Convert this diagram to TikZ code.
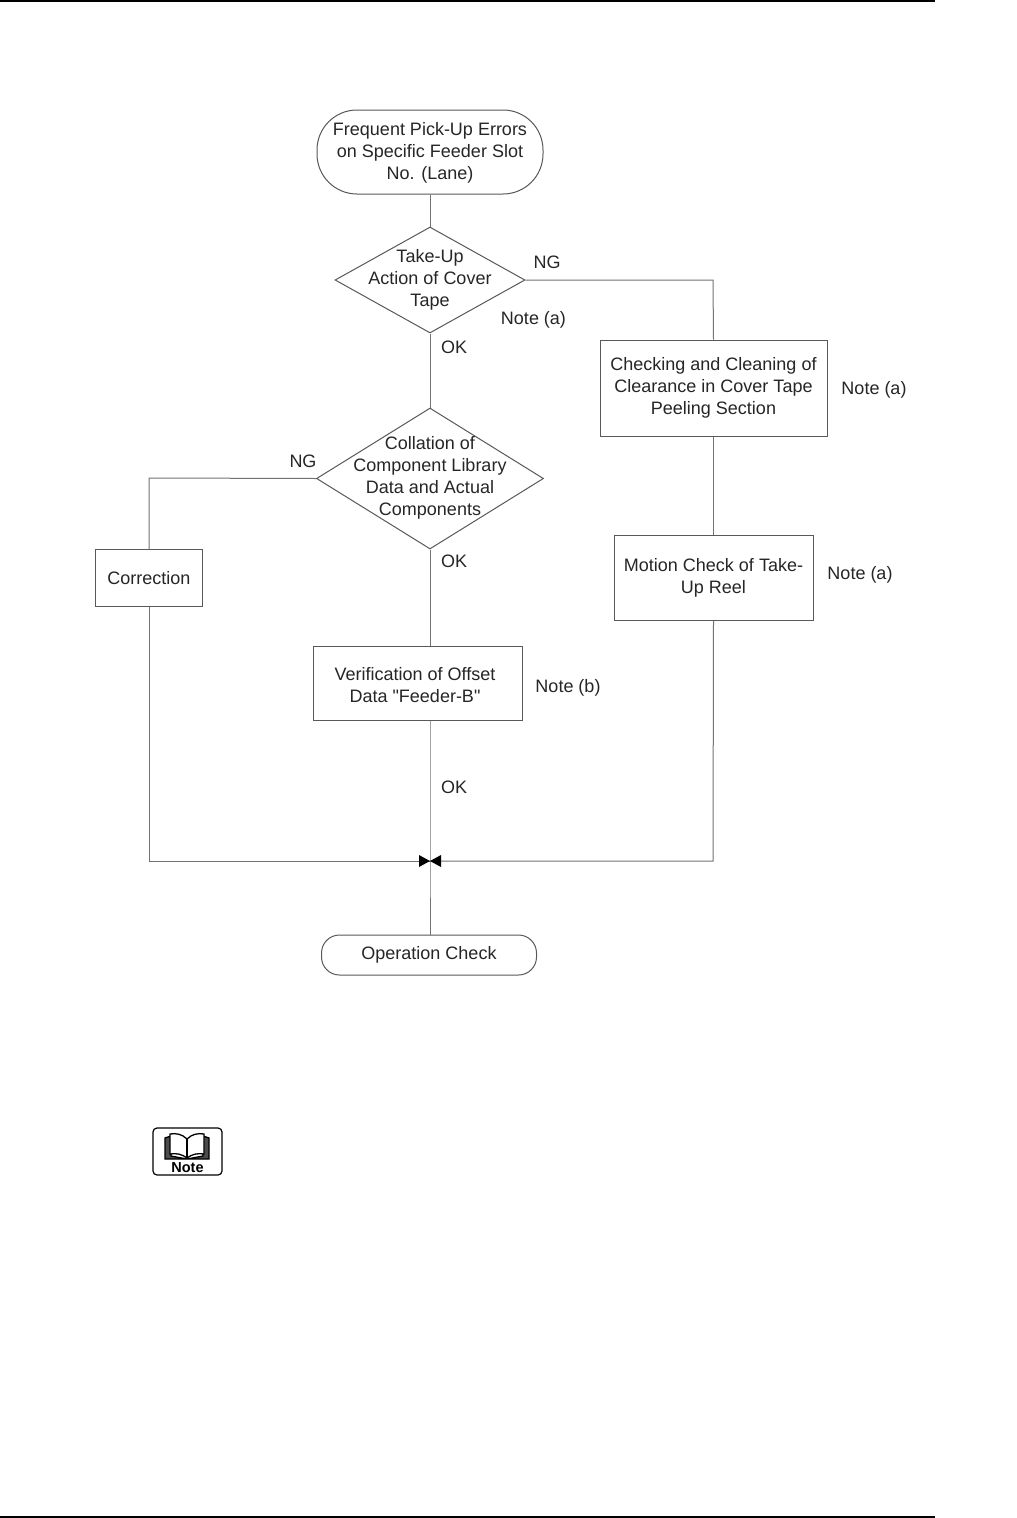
\documentclass[tikz,border=0pt]{standalone}
\usepackage{fontspec}
\setmainfont{Liberation Sans}
\newfontfamily\plainq{Liberation Sans}
\usetikzlibrary{arrows.meta,shapes.geometric}
\tikzset{
 line/.style={draw=black!55,line width=1pt},
 txt/.style={font=\fontsize{18}{22}\selectfont,align=center,inner sep=0pt,text=black!85},
 lab/.style={font=\fontsize{18}{22}\selectfont,inner sep=0pt,text=black!85},
 shp/.style={draw=black!65,line width=1pt,fill=white,inner sep=0pt},
 tip/.style={fill=black,draw=none},
 rule/.style={fill=black,draw=none}
}
\begin{document}
\begin{tikzpicture}[x=1pt,y=-1pt]
\useasboundingbox (0,0) rectangle (1017,1518);
\fill[white] (0,0) rectangle (1017,1518);
\fill[rule] (0,0) rectangle (935,2);
\fill[rule] (0,1516) rectangle (935,1518);
% coordinates
\coordinate (j) at (430,861);
\coordinate (cr) at (713,280);
\coordinate (cl) at (149,478);
\coordinate (bl) at (149,861);
\coordinate (br) at (713,861);
% nodes
\node[shp,rounded corners=40pt,minimum width=226pt,minimum height=84pt] (start) at (430,152) {};
\node[txt] (startt) at (430,153) {Frequent Pick-Up Errors\\on Specific Feeder Slot\\No. (Lane)};
\node[shp,diamond,aspect=1.8,minimum width=190pt,minimum height=106pt] (d1) at (430,280) {};
\node[txt] (d1t) at (430,280) {Take-Up\\Action of Cover\\Tape};
\node[shp,diamond,aspect=1.604,minimum width=227pt,minimum height=141pt] (d2) at (430,478.5) {};
\node[txt] (d2t) at (430,478) {Collation of\\Component Library\\Data and Actual\\Components};
\node[shp,minimum width=227pt,minimum height=96pt] (b1) at (713.5,388) {};
\node[txt] (b1t) at (713.5,388) {Checking and Cleaning of\\Clearance in Cover Tape\\Peeling Section};
\node[shp,minimum width=199pt,minimum height=85pt] (b2) at (713.5,578) {};
\node[txt] (b2t) at (713.5,578) {Motion Check of Take-\\Up Reel};
\node[shp,minimum width=107pt,minimum height=57pt] (b3) at (149,578) {};
\node[txt] (b3t) at (149,578) {Correction};
\node[shp,minimum width=209pt,minimum height=74pt] (b4) at (417.5,683) {};
\node[txt] (b4t) at (415,685) {Verification of Offset\\Data {\plainq "}Feeder-B{\plainq "}};
\node[shp,rounded corners=18pt,minimum width=215pt,minimum height=40pt] (e) at (429,955) {};
\node[txt] (et) at (429,955) {Operation Check};
% connectors
\draw[line] (start.south) -- (d1.north);
\draw[line] (d1.south) -- (d2.north);
\draw[line] (d2.south) -- (d2.south |- b4.north);
\draw[line] (d2.south |- b4.south) -- (j) -- (e.north -| j);
\draw[line] (d1.east) -- (cr) -- (b1.north);
\draw[line] (b1.south) -- (b2.north);
\draw[line] (b2.south) -- (br) -- (j);
\draw[line] (d2.west) -- (cl) -- (b3.north);
\draw[line] (b3.south) -- (bl) -- (j);
\fill[tip] (j) -- ++(-11,-6) -- ++(0,12) -- cycle;
\fill[tip] (j) -- ++(11,-6) -- ++(0,12) -- cycle;
% labels
\node[lab] (l1) at (547,262) {NG};
\node[lab] (l2) at (533.5,320) {Note (a)};
\node[lab] (l3) at (454,347) {OK};
\node[lab] (l4) at (303,461) {NG};
\node[lab] (l5) at (454,561) {OK};
\node[lab] (l6) at (874,390) {Note (a)};
\node[lab] (l7) at (860,575) {Note (a)};
\node[lab] (l8) at (568,688) {Note (b)};
\node[lab] (l9) at (454,787) {OK};
% note icon
\draw[black,line width=1.2pt,rounded corners=4pt,fill=white] (153,1128) rectangle (222,1175);
\begin{scope}[black,line width=1.3pt]
\filldraw[fill=black!70] (165,1138) -- (171,1136) -- (171,1156) -- (187,1159) -- (165,1159) -- cycle;
\filldraw[fill=black!70] (209,1138) -- (203,1136) -- (203,1156) -- (187,1159) -- (209,1159) -- cycle;
\filldraw[fill=white] (187,1139) .. controls (182,1134) and (176,1133) .. (170,1134) -- (170,1154) .. controls (176,1153) and (182,1154) .. (187,1158) .. controls (192,1154) and (198,1153) .. (204,1154) -- (204,1134) .. controls (198,1133) and (192,1134) .. (187,1139) -- cycle;
\draw (187,1139) -- (187,1158);
\end{scope}
\node[font=\bfseries\fontsize{14.5}{14.5}\selectfont,inner sep=0pt] (notei) at (187.5,1167.5) {Note};
\end{tikzpicture}
\end{document}
